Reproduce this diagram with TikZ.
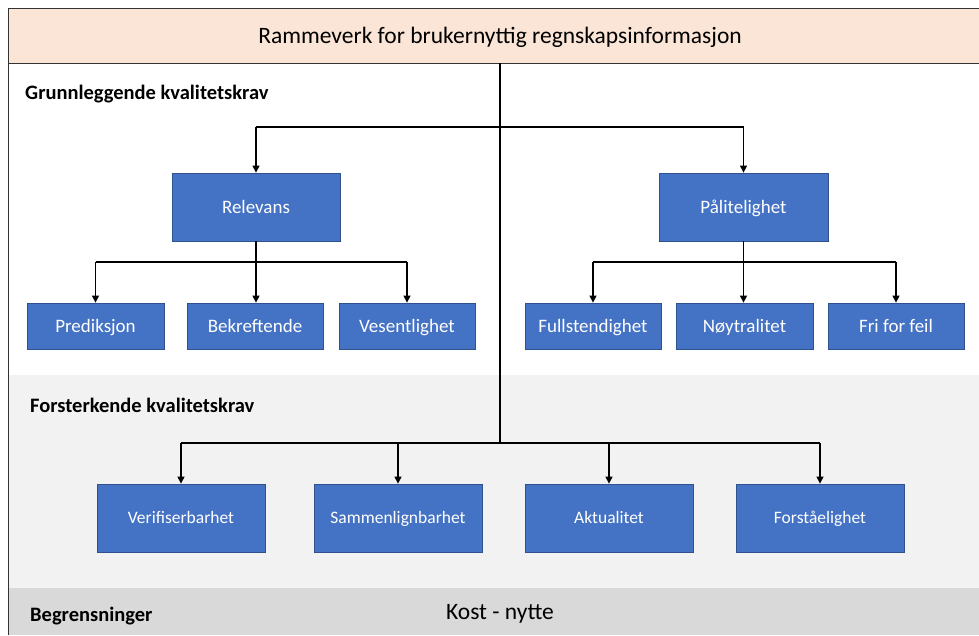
\documentclass[tikz,border=0pt]{standalone}
\usepackage{fontspec}
\setmainfont{Carlito}
\usetikzlibrary{arrows.meta}
\definecolor{peach}{HTML}{FBE5D6}
\definecolor{lgray}{HTML}{F2F2F2}
\definecolor{dgray}{HTML}{D9D9D9}
\definecolor{boxblue}{HTML}{4472C4}
\definecolor{boxedge}{HTML}{2F528F}
\tikzset{
  bluebox/.style={draw=boxedge, line width=0.8pt, fill=boxblue, text=white, font=\fontsize{19}{22}\selectfont, inner sep=0pt, text height=12.2pt, text depth=0pt},
  lowbox/.style={bluebox, font=\fontsize{17.5}{21}\selectfont, text height=11.3pt},
  conn/.style={draw=black, line width=1.2pt},
  arr/.style={conn, -{Triangle[length=7pt,width=7pt]}},
  lbl/.style={anchor=west, font=\bfseries\fontsize{20.5}{24}\selectfont, inner sep=0pt}
}
\begin{document}
\begin{tikzpicture}[x=1pt,y=-1pt]
\useasboundingbox (0,0) rectangle (979,635);
% backgrounds
\fill[white] (0,0) rectangle (979,635);
\fill[lgray] (8,375) rectangle (979,588);
\fill[dgray] (8,588) rectangle (979,635);
\node[draw=black!80, line width=1pt, fill=peach, minimum width=1000pt, minimum height=55pt, anchor=north west, inner sep=0pt] (hdr) at (8,8) {};
\node[font=\fontsize{23.5}{28}\selectfont] (title) at (500,37) {Rammeverk for brukernyttig regnskapsinformasjon};
\draw[black!80, line width=1pt] (8,63) -- (8,635);
% labels
\node[lbl] (l1) at (25,94) {Grunnleggende kvalitetskrav};
\node[lbl] (l2) at (30,405) {Forsterkende kvalitetskrav};
\node[lbl] (l3) at (30,616) {Begrensninger};
\node[font=\fontsize{23.5}{28}\selectfont] (kost) at (500,614) {Kost - nytte};
% boxes
\node[bluebox, minimum width=168pt, minimum height=68pt] (rel) at (256,207) {Relevans};
\node[bluebox, minimum width=169pt, minimum height=68pt] (pal) at (743.5,207) {Pålitelighet};
\node[bluebox, minimum width=137pt, minimum height=46pt] (pre) at (95.5,326) {Prediksjon};
\node[bluebox, minimum width=136pt, minimum height=46pt] (bek) at (255,326) {Bekreftende};
\node[bluebox, minimum width=136pt, minimum height=46pt] (ves) at (407,326) {Vesentlighet};
\node[bluebox, minimum width=136pt, minimum height=46pt] (ful) at (593,326) {Fullstendighet};
\node[bluebox, minimum width=137pt, minimum height=46pt] (noy) at (744.5,326) {Nøytralitet};
\node[bluebox, minimum width=136pt, minimum height=46pt] (fri) at (896,326) {Fri for feil};
\node[lowbox, minimum width=168pt, minimum height=68pt] (ver) at (181,518) {Verifiserbarhet};
\node[lowbox, minimum width=168pt, minimum height=68pt] (sam) at (398,518) {Sammenlignbarhet};
\node[lowbox, minimum width=168pt, minimum height=68pt] (akt) at (609,518) {Aktualitet};
\node[lowbox, minimum width=168pt, minimum height=68pt] (for) at (820,518) {Forståelighet};
% connectors
\coordinate (top) at (500,63);
\coordinate (j1) at (500,127);
\coordinate (j2) at (500,443);
\draw[conn] (top) -- (j2);
\draw[conn] (rel.north |- j1) -- (pal.north |- j1);
\draw[arr] (rel.north |- j1) -- (rel.north);
\draw[arr] (pal.north |- j1) -- (pal.north);
\coordinate (r1) at (256,262);
\coordinate (p1) at (743.5,262);
\draw[conn] (rel.south) -- (r1);
\draw[conn] (pre.north |- r1) -- (ves.north |- r1);
\draw[arr] (pre.north |- r1) -- (pre.north);
\draw[arr] (r1) -- (r1 |- bek.north);
\draw[arr] (ves.north |- r1) -- (ves.north);
\draw[conn] (pal.south) -- (p1);
\draw[conn] (ful.north |- p1) -- (fri.north |- p1);
\draw[arr] (ful.north |- p1) -- (ful.north);
\draw[arr] (p1) -- (p1 |- noy.north);
\draw[arr] (fri.north |- p1) -- (fri.north);
\draw[conn] (ver.north |- j2) -- (for.north |- j2);
\draw[arr] (ver.north |- j2) -- (ver.north);
\draw[arr] (sam.north |- j2) -- (sam.north);
\draw[arr] (akt.north |- j2) -- (akt.north);
\draw[arr] (for.north |- j2) -- (for.north);
\end{tikzpicture}
\end{document}
